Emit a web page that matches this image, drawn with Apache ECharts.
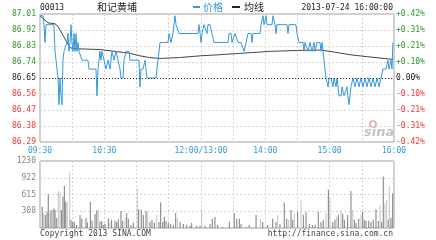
<!DOCTYPE html>
<html><head><meta charset="utf-8">
<script src="https://cdn.jsdelivr.net/npm/echarts@6/dist/echarts.min.js"></script>
<style>html,body{margin:0;padding:0;background:#fff}#c{width:436px;height:240px}</style>
</head><body><div id="c"></div>
<script>
// ---- data (minutes since 09:30, trading minutes; 12:00/13:00 = 150) ----
const timeTickMinutes = [0, 60, 150, 210, 270, 330];
const timeTickLabels = ['09:30', '10:30', '12:00/13:00', '14:00', '15:00', '16:00'];
const priceTickLabels = ['86.29', '86.38', '86.47', '86.56', '86.65', '86.74', '86.83', '86.92', '87.01'];
const pctTickLabels = ['-0.42%', '-0.31%', '-0.21%', '-0.10%', '0.00%', '+0.10%', '+0.21%', '+0.31%', '+0.42%'];
const volumeTickLabels = ['', '308', '615', '922', '1230'];
const prevClose = 86.65;

const priceMinutes = [0,2.8,3.7,4.7,5.6,13,14,15.8,16.8,17.7,18.6,19.6,20.5,21.4,22.4,24.2,25.2,26.1,27,28,28.9,29.8,30.8,31.7,32.6,33.6,34.5,35.4,36.4,38.2,39.2,44.7,45.7,52.2,53.1,54.1,55,55.9,56.8,57.8,59.7,61.5,63.4,65.3,67.1,69,70.8,72.7,74.6,75.5,77.4,78.3,80.2,83,83.9,92.3,93.2,94.1,96,97.9,99.7,108.1,110,111.9,119.3,120.3,122.1,124,124.9,125.8,126.8,128.6,129.6,147.3,148.2,149.2,150.1,151,152.9,154.7,155.7,156.6,158.5,160.3,162.2,175.3,176.2,178.1,179,181.8,184.6,187.4,190.2,192.1,193.9,196.8,197.7,198.6,205.1,206,207.9,208.8,210.7,211.6,216.3,217.2,219.1,220,220.9,230.3,231.2,232.1,238.6,239.6,241.4,245.2,246.1,247,249.8,251.7,253.6,255.4,256.4,258.2,261,262,262.9,263.8,266.6,268.5,269.4,271.3,273.1,274.1,275.9,276.9,277.8,278.7,280.6,281.5,283.4,285.2,286.1,287,288,289,289.9,291.8,293.6,295.5,297.4,299.2,301.1,303,304.8,306.7,308.6,310.4,312.3,314.2,316,317.9,319.7,322.5,324.4,325.3,327.2,328.1,329];
const priceValues = [87.00,87.00,86.95,86.85,86.95,86.95,86.80,86.80,86.65,86.50,86.65,86.55,86.50,86.75,86.80,86.80,86.85,86.90,86.80,86.85,86.95,86.85,86.80,86.90,86.80,86.90,86.80,86.85,86.80,86.80,86.75,86.75,86.70,86.70,86.55,86.70,86.75,86.80,86.75,86.80,86.75,86.70,86.75,86.70,86.80,86.75,86.80,86.75,86.70,86.65,86.65,86.75,86.80,86.80,86.75,86.75,86.60,86.70,86.70,86.75,86.65,86.65,86.75,86.85,86.85,86.90,86.85,86.90,86.90,87.00,86.95,86.95,86.90,86.90,86.95,86.90,86.85,86.90,86.95,86.95,86.90,86.95,86.95,86.90,86.85,86.85,86.90,86.90,86.85,86.90,86.85,86.85,86.80,86.85,86.90,86.90,86.85,86.90,86.90,86.95,87.00,86.95,87.00,86.95,86.95,87.00,86.95,86.90,86.95,86.95,86.90,86.95,86.95,86.90,86.85,86.85,86.80,86.85,86.80,86.85,86.80,86.85,86.80,86.85,86.85,86.80,86.85,86.80,86.65,86.60,86.65,86.65,86.60,86.65,86.60,86.65,86.60,86.55,86.55,86.60,86.55,86.55,86.60,86.55,86.50,86.55,86.60,86.65,86.60,86.65,86.60,86.65,86.60,86.65,86.60,86.65,86.60,86.65,86.60,86.65,86.60,86.65,86.70,86.70,86.75,86.70,86.75,86.70,86.85];

const avgMinutes = [0,3.7,7.5,14,16.8,21.4,24.2,26.1,28,32.6,56,83,93,102,112,130,150,165,190,215,240,262,275,290,305,325,329];
const avgValues = [87.00,86.98,86.96,86.955,86.94,86.89,86.86,86.84,86.82,86.815,86.81,86.79,86.775,86.765,86.76,86.765,86.775,86.78,86.79,86.80,86.805,86.807,86.795,86.78,86.77,86.757,86.755];

const volumeMinutes = [2.1,3.4,4.9,6.5,7.7,9.3,10.3,11.5,13,14,15.6,17.1,18.6,19.9,21.4,22.7,24,25.4,27.7,28.9,30.5,32,34.2,37.3,38.9,42.9,44.1,46.9,48.5,51.3,52.9,54.3,55.9,57.5,59,60.6,63.7,65.3,66.8,69.9,71.5,73,75.5,77.1,79.2,80.8,82.3,84.8,87,90.7,92,94.4,96.3,98.8,100.4,102.5,104.4,106.6,108.8,110.9,112.5,114.4,115.9,117.5,119.6,121.8,124.3,126.5,128,130.5,133.6,136.8,139.8,141.4,146.1,149.2,150.7,153.8,158.5,160.6,163.1,165.6,170.3,176.5,181.1,183.4,185.8,187.4,192,195.1,201.4,205.4,207.6,212.3,216.9,220,221.6,223.7,227.7,230,231.8,234,235.6,237.1,240.2,243.3,245.5,248,251,254.2,256.6,259.4,262,264.1,266.6,268.8,270.3,272.9,275,276.6,278.1,280.6,282.2,283.7,286.8,289.9,291.5,293,294.6,297.1,299.2,300.8,302.3,303.9,306.4,308.6,310.7,313.2,315.4,317,318.5,320,321.6,323.2,324.6,325.6,327.2,328.8];
const volumeValues = [392,270,240,300,620,276,331,344,362,331,184,680,657,331,576,773,484,484,1018,147,110,110,55,240,170,190,100,484,135,258,319,331,120,130,55,80,178,110,150,135,110,160,313,135,190,270,170,55,100,730,344,340,240,313,300,110,150,100,240,110,466,110,208,130,90,75,60,270,190,110,75,60,40,90,40,40,331,40,75,170,208,55,20,117,270,170,170,75,20,55,240,170,110,55,170,110,240,75,466,170,150,331,150,260,300,515,240,289,75,55,60,300,110,150,270,700,546,110,150,208,240,331,260,150,240,680,331,150,90,170,240,300,150,130,135,110,150,344,130,423,110,945,454,515,150,760,190,638];
// 1 = light gray bar, 0 = dark gray bar
const volumeTone = [0,1,0,0,0,1,0,1,0,0,0,1,1,0,0,0,0,1,1,0,0,0,0,0,0,0,0,0,0,0,0,1,0,0,0,0,0,1,0,0,0,0,0,0,1,0,0,0,0,1,0,0,0,0,1,0,0,0,1,0,0,0,0,0,0,0,0,0,1,0,0,0,0,0,0,0,1,0,0,0,0,0,0,0,0,0,0,0,0,0,0,1,0,0,0,0,1,0,0,0,1,0,0,1,0,1,0,0,0,0,0,0,0,0,1,0,1,0,0,1,0,1,0,0,0,0,1,0,0,0,1,0,0,0,0,0,0,0,0,1,0,0,1,1,0,1,0,0];

// ---- build ----
const mono = 'DejaVu Sans Mono';
const cjk = 'Noto Sans CJK SC';
const pricePairs = priceMinutes.map((m, i) => [m, priceValues[i]]);
const avgPairs = avgMinutes.map((m, i) => [m, avgValues[i]]);
const volPairs = volumeMinutes.map((m, i) => ({
  value: [m, volumeValues[i]],
  itemStyle: { color: volumeTone[i] ? '#c4c4c4' : '#7c7c7c' }
}));
function timeLabel(v) {
  const k = timeTickMinutes.indexOf(Math.round(v));
  return k >= 0 ? timeTickLabels[k] : '';
}
function tickColor(i) { return i < 4 ? '#ff3333' : (i === 4 ? '#222' : '#2c9a2c'); }
const splitDash = { show: true, lineStyle: { color: '#d4d4d4', type: [2, 2], width: 1 } };

const chart = echarts.init(document.getElementById('c'), null, { renderer: 'canvas' });
chart.setOption({
  animation: false,
  backgroundColor: '#fff',
  grid: [
    { left: 40, top: 14, width: 354, height: 128, show: true, borderColor: '#a0a0a0', borderWidth: 1, backgroundColor: 'transparent' },
    { left: 40, top: 161, width: 354, height: 67, show: true, borderColor: '#a0a0a0', borderWidth: 1, backgroundColor: 'transparent' }
  ],
  xAxis: [
    { type: 'value', gridIndex: 0, min: 0, max: 330, interval: 30,
      axisLine: { show: false }, axisTick: { show: false }, splitLine: splitDash,
      axisLabel: { formatter: timeLabel, color: '#3399dd', fontFamily: mono, fontSize: 8, margin: 5, showMinLabel: true, showMaxLabel: true } },
    { type: 'value', gridIndex: 1, min: 0, max: 330, interval: 30,
      axisLine: { show: false }, axisTick: { show: false }, splitLine: splitDash, axisLabel: { show: false } }
  ],
  yAxis: [
    { type: 'value', gridIndex: 0, min: 86.29, max: 87.01, interval: 0.09,
      axisLine: { show: false }, axisTick: { show: false }, splitLine: splitDash,
      axisLabel: { formatter: (v, i) => priceTickLabels[i], color: (v, i) => tickColor(i), fontFamily: mono, fontSize: 8, margin: 4 } },
    { type: 'value', gridIndex: 0, position: 'right', min: 86.29, max: 87.01, interval: 0.09,
      axisLine: { show: false }, axisTick: { show: false }, splitLine: { show: false },
      axisLabel: { formatter: (v, i) => pctTickLabels[i], color: (v, i) => tickColor(i), fontFamily: mono, fontSize: 8, margin: 2 } },
    { type: 'value', gridIndex: 1, min: 0, max: 1230, interval: 307.5,
      axisLine: { show: false }, axisTick: { show: false }, splitLine: splitDash,
      axisLabel: { formatter: (v, i) => volumeTickLabels[i], color: '#888', fontFamily: mono, fontSize: 8, margin: 4 } }
  ],
  series: [
    { type: 'line', xAxisIndex: 0, yAxisIndex: 1, data: avgPairs, showSymbol: false, symbol: 'none',
      lineStyle: { color: '#444', width: 1 }, z: 3 },
    { type: 'line', xAxisIndex: 0, yAxisIndex: 0, data: pricePairs, showSymbol: false, symbol: 'none',
      lineStyle: { color: '#3399dd', width: 1 }, z: 4,
      markLine: { silent: true, symbol: 'none', label: { show: false },
        lineStyle: { color: '#333', type: [1, 2], width: 1 }, data: [{ yAxis: prevClose }] } },
    { type: 'bar', xAxisIndex: 1, yAxisIndex: 2, data: volPairs, barWidth: 1, barMinHeight: 0 }
  ],
  graphic: [
    { type: 'text', left: 40, top: 4, style: { text: '00013', font: '8px "DejaVu Sans Mono"', fill: '#222' } },
    { type: 'text', left: 97, top: 2, style: { text: '和记黄埔', font: '10px "Noto Sans CJK SC"', fill: '#222' } },
    { type: 'rect', shape: { x: 193, y: 6, width: 7, height: 2 }, style: { fill: '#3399dd' } },
    { type: 'text', left: 203, top: 2, style: { text: '价格', font: '10px "Noto Sans CJK SC"', fill: '#3399dd' } },
    { type: 'rect', shape: { x: 232, y: 6, width: 8, height: 2 }, style: { fill: '#222' } },
    { type: 'text', left: 244, top: 2, style: { text: '均线', font: '10px "Noto Sans CJK SC"', fill: '#222' } },
    { type: 'text', right: 43, top: 4, style: { text: '2013-07-24 16:00:00', font: '8px "DejaVu Sans Mono"', fill: '#222' } },
    { type: 'text', left: 40, top: 230, style: { text: 'Copyright 2013 SINA.COM', font: '8px "DejaVu Sans Mono"', fill: '#444' } },
    { type: 'text', right: 43, top: 230, style: { text: 'http://finance.sina.com.cn', font: '8px "DejaVu Sans Mono"', fill: '#444' } },
    { type: 'circle', shape: { cx: 373, cy: 124, r: 3 }, style: { fill: 'none', stroke: '#f3a0a0', lineWidth: 1.5 } },
    { type: 'text', left: 364, top: 126, style: { text: 'sina', font: 'italic bold 13px "DejaVu Sans"', fill: '#c4c4c4' } }
  ]
});
</script></body></html>
